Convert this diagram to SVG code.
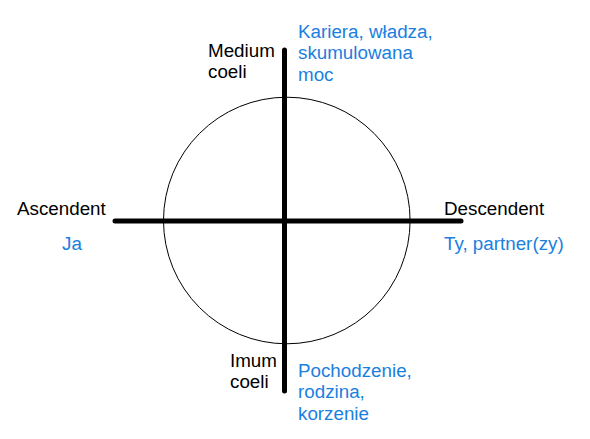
<svg xmlns="http://www.w3.org/2000/svg" width="590" height="439" viewBox="0 0 590 439">
<style>
text{font-family:"Liberation Sans",Arial,sans-serif;font-size:18.8px}
.k{fill:#000}
.b{fill:#1a80e0}
</style>
<rect width="590" height="439" fill="#fff"/>
<g id="circle"><circle cx="286.8" cy="220.5" r="123.3" fill="none" stroke="#000" stroke-width="1"/></g>
<g id="connectors" stroke="#000" stroke-width="5" stroke-linecap="round">
<line x1="284.5" y1="50" x2="284.5" y2="391"/>
<line x1="115" y1="221" x2="461" y2="221"/>
</g>
<g id="mc"><text class="k" x="208" y="57">Medium</text><text class="k" x="208" y="78">coeli</text></g>
<g id="mc-desc"><text class="b" x="298" y="38">Kariera, władza,</text><text class="b" x="298" y="59">skumulowana</text><text class="b" x="298" y="81">moc</text></g>
<g id="asc"><text class="k" x="17" y="215">Ascendent</text><text class="b" x="62" y="250">Ja</text></g>
<g id="desc"><text class="k" x="444" y="215">Descendent</text><text class="b" x="444" y="250">Ty, partner(zy)</text></g>
<g id="ic"><text class="k" x="230" y="367">Imum</text><text class="k" x="230" y="388">coeli</text></g>
<g id="ic-desc"><text class="b" x="298" y="377">Pochodzenie,</text><text class="b" x="298" y="398">rodzina,</text><text class="b" x="298" y="420">korzenie</text></g>
</svg>
